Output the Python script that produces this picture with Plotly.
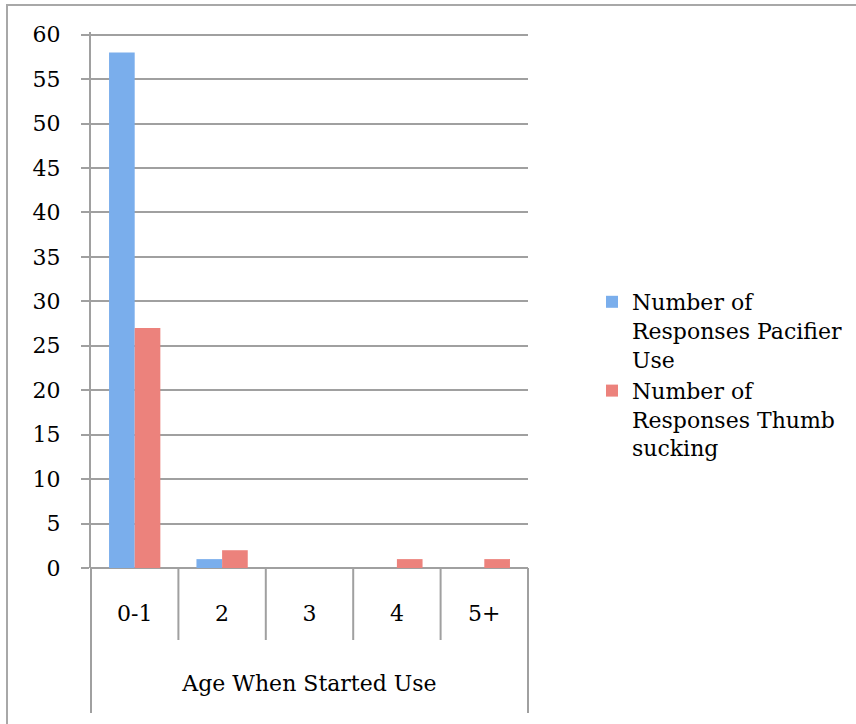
import plotly.graph_objects as go

categories = ["0-1", "2", "3", "4", "5+"]
pacifier = [58, 1, 0, 0, 0]
thumb = [27, 2, 0, 1, 1]
series_names = ["Number of<br>Responses Pacifier<br>Use", "Number of<br>Responses Thumb<br>sucking"]
y_ticks = list(range(0, 61, 5))
x_title = "Age When Started Use"

FONT = "DejaVu Serif"
GRID = "#a0a0a0"

fig = go.Figure()
fig.add_trace(go.Bar(x=categories, y=pacifier, name=series_names[0],
                     marker=dict(color="#7aaeec", line=dict(width=0))))
fig.add_trace(go.Bar(x=categories, y=thumb, name=series_names[1],
                     marker=dict(color="#ec827c", line=dict(width=0))))

L, R, T, B = 91, 328, 32, 156
W, H = 856, 724
plot_h = H - T - B

def py(px_below):
    # convert pixels below the plot bottom to paper y
    return -px_below / plot_h

shapes = []
# category separators
for i in range(1, len(categories)):
    shapes.append(dict(type="line", xref="x", yref="paper", x0=i - 0.5, x1=i - 0.5,
                       y0=0, y1=py(72), line=dict(color=GRID, width=2)))
# outer box lines around axis title
for xp in (0, 1):
    shapes.append(dict(type="line", xref="paper", yref="paper", x0=xp, x1=xp,
                       y0=0, y1=py(145), line=dict(color=GRID, width=2)))
# figure border
shapes.append(dict(type="rect", xref="paper", yref="paper",
                   x0=-(L - 7) / (W - L - R), x1=(W + 10 - L) / (W - L - R),
                   y0=py(B + 20), y1=1 + (T - 5) / plot_h,
                   line=dict(color="#a8a8a8", width=2)))

fig.update_layout(
    width=W, height=H,
    margin=dict(l=L, r=R, t=T, b=B, autoexpand=False),
    paper_bgcolor="white", plot_bgcolor="white",
    font=dict(family=FONT, size=22, color="#000000"),
    barmode="group", bargap=0.413, bargroupgap=0,
    showlegend=True,
    legend=dict(xref="container", yref="container",
                x=592 / W, xanchor="left", y=1 - 281 / H, yanchor="top",
                font=dict(family=FONT, size=22), bgcolor="rgba(0,0,0,0)",
                tracegroupgap=6, itemwidth=30, valign="top"),
    shapes=shapes,
    xaxis=dict(
        type="category", range=[-0.5, len(categories) - 0.5],
        showgrid=False, showline=False, ticks="", zeroline=False,
        tickfont=dict(family=FONT, size=22),
        ticklabelstandoff=30,
        title=dict(text=x_title, font=dict(family=FONT, size=22), standoff=50),
    ),
    yaxis=dict(
        range=[0, 60.3], tickvals=y_ticks, ticktext=[str(v) for v in y_ticks],
        showgrid=True, gridcolor=GRID, gridwidth=2,
        showline=True, linecolor=GRID, linewidth=2,
        ticks="outside", ticklen=8, tickcolor=GRID, tickwidth=2,
        zeroline=True, zerolinecolor=GRID, zerolinewidth=2,
        tickfont=dict(family=FONT, size=22),
        ticklabelstandoff=16,
    ),
)

fig.write_html("out.html")
